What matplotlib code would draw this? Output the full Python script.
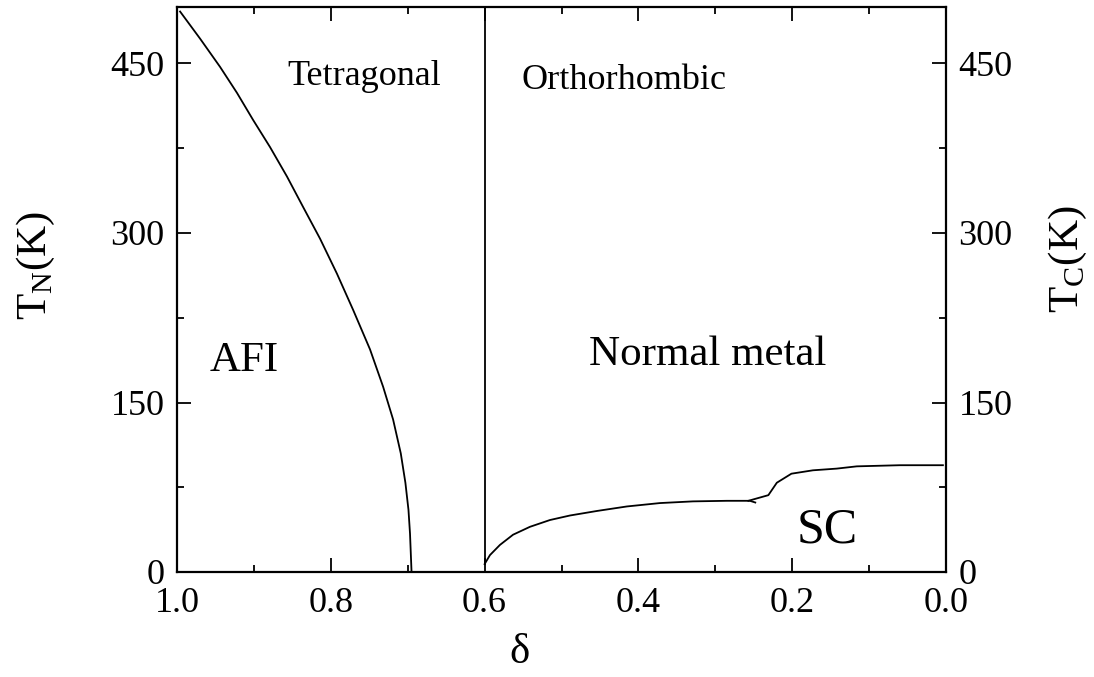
import matplotlib.pyplot as plt

# AFI boundary (T_N vs delta)
afi_delta = [0.996, 0.970, 0.944, 0.922, 0.901, 0.879, 0.857, 0.836, 0.814, 0.792,
             0.771, 0.749, 0.732, 0.719, 0.709, 0.703, 0.699, 0.697, 0.695]
afi_tn = [496, 472, 447, 424, 400, 376, 350, 323, 295, 264,
          232, 197, 164, 135, 105, 79, 55, 34, 0]

# tetragonal / orthorhombic boundary
struct_delta = [0.6, 0.6]
struct_t = [7, 500]

# T_C, low-T_C plateau
sc_delta = [0.600, 0.593, 0.580, 0.563, 0.541, 0.515, 0.489, 0.454, 0.415,
            0.372, 0.329, 0.285, 0.255, 0.248]
sc_tc = [7, 15, 24, 33, 40, 46, 50, 54, 58, 61, 62.5, 63, 63, 61.5]
# T_C, 90 K plateau
sc2_delta = [0.257, 0.231, 0.220, 0.201, 0.173, 0.142, 0.116, 0.060, 0.004]
sc2_tc = [63, 68, 79, 87, 90, 91.5, 93.5, 94.5, 94.5]

yticks = [0, 150, 300, 450]
xticks = [1.0, 0.8, 0.6, 0.4, 0.2, 0.0]


def main():
    plt.rcParams['font.family'] = ['Liberation Serif', 'DejaVu Serif']
    plt.rcParams['mathtext.fontset'] = 'custom'
    plt.rcParams['mathtext.rm'] = 'Liberation Serif'

    fig = plt.figure(figsize=(10.94, 6.77), dpi=100)
    ax = fig.add_axes([177 / 1094, 105 / 677, 769 / 1094, 565 / 677])

    ax.plot(afi_delta, afi_tn, color="black", lw=1.3)
    ax.plot(struct_delta, struct_t, color="black", lw=1.3)
    ax.plot(sc_delta, sc_tc, color="black", lw=1.3)
    ax.plot(sc2_delta, sc2_tc, color="black", lw=1.3)

    ax.set_xlim(1.0, 0.0)
    ax.set_ylim(0, 500)
    ax.set_xticks(xticks)
    ax.set_xticklabels(["%.1f" % v for v in xticks])
    ax.set_xticks([0.9, 0.7, 0.5, 0.3, 0.1], minor=True)
    ax.set_yticks(yticks)
    ax.set_yticks([75, 225, 375], minor=True)
    ax.tick_params(direction="in", which="major", length=10, width=1.3, labelsize=26,
                   top=True, right=True, labelright=True)
    ax.tick_params(axis="x", which="major", pad=11)
    ax.tick_params(axis="y", which="major", pad=9)
    ax.tick_params(direction="in", which="minor", length=5, width=1.3, top=True, right=True)
    for s in ax.spines.values():
        s.set_linewidth(1.6)

    ax.text(0.446, -0.143, "δ", transform=ax.transAxes, fontsize=31,
            ha="center", va="center")
    ax.text(-0.183, 0.542, r"T$_\mathrm{N}$(K)", transform=ax.transAxes, fontsize=31,
            rotation=90, ha="center", va="center")
    ax.text(1.158, 0.554, r"T$_\mathrm{C}$(K)", transform=ax.transAxes, fontsize=31,
            rotation=90, ha="center", va="center")

    ax.text(0.757, 431, "Tetragonal", fontsize=26, ha="center", va="baseline")
    ax.text(0.419, 427, "Orthorhombic", fontsize=26, ha="center", va="baseline")
    ax.text(0.912, 178, "AFI", fontsize=31, ha="center", va="baseline")
    ax.text(0.31, 183, "Normal metal", fontsize=31, ha="center", va="baseline")
    ax.text(0.155, 26.5, "SC", fontsize=36, ha="center", va="baseline")

    fig.savefig("out.png", dpi=100)


if __name__ == "__main__":
    main()
